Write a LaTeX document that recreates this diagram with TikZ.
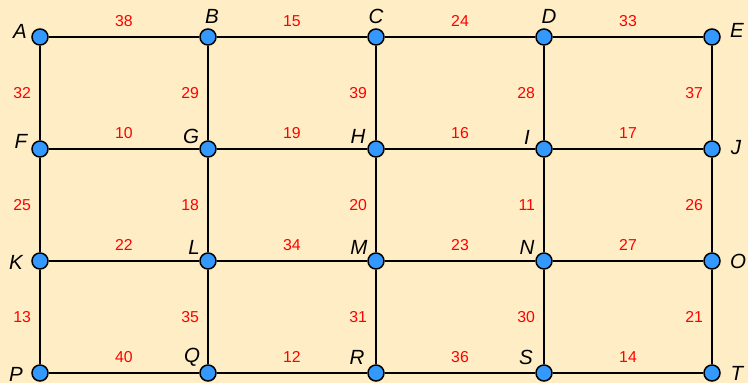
\documentclass[tikz,border=0pt]{standalone}
\usepackage{fontspec}
\setmainfont{Liberation Sans}
\definecolor{paper}{RGB}{255,237,197}
\definecolor{vertexblue}{RGB}{51,153,255}
\begin{document}
\begin{tikzpicture}[x=0.03cm,y=-0.03cm,
  vertex/.style={circle,draw=black,line width=1.3pt,fill=vertexblue,minimum size=0.48cm,inner sep=0pt},
  lbl/.style={font=\itshape\fontsize{17.5}{17.5}\selectfont,inner sep=0pt},
  wt/.style={text=red,font=\fontsize{13.5}{13.5}\selectfont,inner sep=0pt},
  edge/.style={line width=1.4pt}]
\fill[paper] (0,0) rectangle (748,383);
% vertices
\node[vertex] (A) at (40,37) {};
\node[vertex] (B) at (208,37) {};
\node[vertex] (C) at (376,37) {};
\node[vertex] (D) at (544,37) {};
\node[vertex] (E) at (712,37) {};
\node[vertex] (F) at (40,149) {};
\node[vertex] (G) at (208,149) {};
\node[vertex] (H) at (376,149) {};
\node[vertex] (I) at (544,149) {};
\node[vertex] (J) at (712,149) {};
\node[vertex] (K) at (40,261) {};
\node[vertex] (L) at (208,261) {};
\node[vertex] (M) at (376,261) {};
\node[vertex] (N) at (544,261) {};
\node[vertex] (O) at (712,261) {};
\node[vertex] (P) at (40,373) {};
\node[vertex] (Q) at (208,373) {};
\node[vertex] (R) at (376,373) {};
\node[vertex] (S) at (544,373) {};
\node[vertex] (T) at (712,373) {};
% vertex names
\node[lbl] (nA) at (20,31) {A};
\node[lbl] (nB) at (212,16) {B};
\node[lbl] (nC) at (376,16) {C};
\node[lbl] (nD) at (549,16) {D};
\node[lbl] (nE) at (737,30) {E};
\node[lbl] (nF) at (21,141) {F};
\node[lbl] (nG) at (191,136) {G};
\node[lbl] (nH) at (358,136) {H};
\node[lbl] (nI) at (527,137) {I};
\node[lbl] (nJ) at (736,148) {J};
\node[lbl] (nK) at (16,262) {K};
\node[lbl] (nL) at (194,247) {L};
\node[lbl] (nM) at (359,247) {M};
\node[lbl] (nN) at (527,247) {N};
\node[lbl] (nO) at (738,261) {O};
\node[lbl] (nP) at (16,374) {P};
\node[lbl] (nQ) at (192,357) {Q};
\node[lbl] (nR) at (357,357) {R};
\node[lbl] (nS) at (526,357) {S};
\node[lbl] (nT) at (737,373) {T};
% horizontal edges
\draw[edge] (A) -- node[wt,above=8pt] {38} (B);
\draw[edge] (B) -- node[wt,above=8pt] {15} (C);
\draw[edge] (C) -- node[wt,above=8pt] {24} (D);
\draw[edge] (D) -- node[wt,above=8pt] {33} (E);
\draw[edge] (F) -- node[wt,above=8pt] {10} (G);
\draw[edge] (G) -- node[wt,above=8pt] {19} (H);
\draw[edge] (H) -- node[wt,above=8pt] {16} (I);
\draw[edge] (I) -- node[wt,above=8pt] {17} (J);
\draw[edge] (K) -- node[wt,above=8pt] {22} (L);
\draw[edge] (L) -- node[wt,above=8pt] {34} (M);
\draw[edge] (M) -- node[wt,above=8pt] {23} (N);
\draw[edge] (N) -- node[wt,above=8pt] {27} (O);
\draw[edge] (P) -- node[wt,above=8pt] {40} (Q);
\draw[edge] (Q) -- node[wt,above=8pt] {12} (R);
\draw[edge] (R) -- node[wt,above=8pt] {36} (S);
\draw[edge] (S) -- node[wt,above=8pt] {14} (T);
% vertical edges
\draw[edge] (A) -- node[wt,left=7pt] {32} (F);
\draw[edge] (B) -- node[wt,left=7pt] {29} (G);
\draw[edge] (C) -- node[wt,left=7pt] {39} (H);
\draw[edge] (D) -- node[wt,left=7pt] {28} (I);
\draw[edge] (E) -- node[wt,left=7pt] {37} (J);
\draw[edge] (F) -- node[wt,left=7pt] {25} (K);
\draw[edge] (G) -- node[wt,left=7pt] {18} (L);
\draw[edge] (H) -- node[wt,left=7pt] {20} (M);
\draw[edge] (I) -- node[wt,left=7pt] {11} (N);
\draw[edge] (J) -- node[wt,left=7pt] {26} (O);
\draw[edge] (K) -- node[wt,left=7pt] {13} (P);
\draw[edge] (L) -- node[wt,left=7pt] {35} (Q);
\draw[edge] (M) -- node[wt,left=7pt] {31} (R);
\draw[edge] (N) -- node[wt,left=7pt] {30} (S);
\draw[edge] (O) -- node[wt,left=7pt] {21} (T);
\end{tikzpicture}
\end{document}
